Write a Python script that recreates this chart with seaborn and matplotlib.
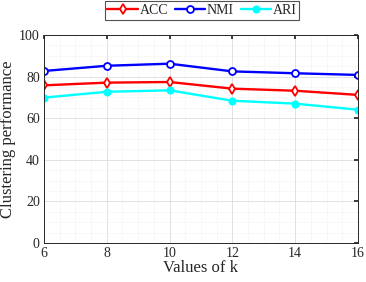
import matplotlib
matplotlib.use("Agg")
import matplotlib.pyplot as plt
import seaborn as sns
import pandas as pd
from matplotlib.ticker import MultipleLocator

k_values = [6, 8, 10, 12, 14, 16]
acc = [75.8, 77.1, 77.4, 74.2, 73.2, 71.2]
nmi = [82.7, 85.2, 86.2, 82.5, 81.6, 80.8]
ari = [69.9, 72.7, 73.4, 68.4, 67.0, 64.1]
series_names = ["ACC", "NMI", "ARI"]

df = pd.DataFrame({"k": k_values * 3,
                   "value": acc + nmi + ari,
                   "metric": [n for n in series_names for _ in k_values]})

sns.set_theme(style="white")
plt.rcParams['font.family'] = ['Liberation Serif', 'DejaVu Serif']

fig = plt.figure(figsize=(3.66, 2.82), dpi=100)
ax = fig.add_axes([0.120, 0.138, 0.858, 0.738])

palette = {"ACC": "#ff0000", "NMI": "#0000ff", "ARI": "#00ffff"}
styles = {"ACC": dict(marker="d", mfc="white", ms=5),
          "NMI": dict(marker="o", mfc="white", ms=5),
          "ARI": dict(marker="o", mfc="#00ffff", ms=4.5)}
for name in series_names:
    sub = df[df.metric == name]
    sns.lineplot(data=sub, x="k", y="value", ax=ax, color=palette[name], lw=1.7,
                 marker=styles[name]["marker"], markersize=styles[name]["ms"],
                 markerfacecolor=styles[name]["mfc"], markeredgecolor=palette[name],
                 markeredgewidth=1.3, label=name, legend=False)

ax.set_xlim(6, 16)
ax.set_ylim(0, 100)
ax.set_xticks(k_values)
ax.set_yticks([0, 20, 40, 60, 80, 100])
ax.xaxis.set_minor_locator(MultipleLocator(0.5))
ax.yaxis.set_minor_locator(MultipleLocator(5))
ax.grid(True, which="major", color="#dcdcdc", lw=0.6)
ax.grid(True, which="minor", color="#e6e6e6", lw=0.5, ls=":")
ax.set_axisbelow(True)
for s in ax.spines.values():
    s.set_color("#262626")
    s.set_linewidth(0.7)
ax.tick_params(axis="both", which="major", labelsize=10, colors="#262626", length=3,
               direction="in", top=True, right=True, pad=3)
ax.tick_params(which="minor", length=0)
ax.set_xlabel("Values of k", fontsize=12, color="#262626", labelpad=0)
ax.set_ylabel("Clustering performance", fontsize=12, color="#262626", labelpad=2)

handles, labels = ax.get_legend_handles_labels()
leg = fig.legend(handles, labels, loc="upper center", bbox_to_anchor=(0.552, 0.995), ncol=3,
                 fontsize=10, frameon=True, fancybox=False, edgecolor="#262626",
                 handlelength=2.2, handletextpad=0.1, columnspacing=0.5,
                 borderpad=0.2, borderaxespad=0)
leg.get_frame().set_linewidth(0.8)

fig.savefig("out.png", dpi=100)
